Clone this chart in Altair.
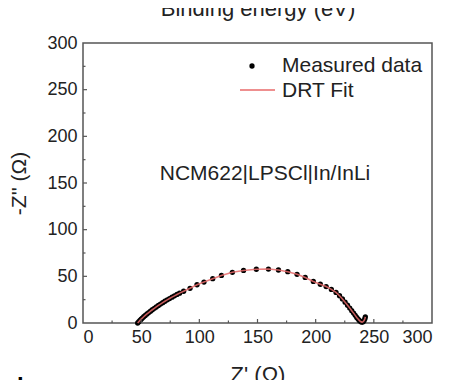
import altair as alt
import pandas as pd

# Measured impedance data (Z', -Z'')
z_real = [47.0, 48.0, 49.0, 50.0, 51.0, 52.2, 53.5, 55.0, 56.5, 58.0, 59.6, 61.3, 63.0, 64.8,
          66.6, 68.5, 70.4, 72.4, 74.4, 76.5, 78.6, 80.8, 83.0, 86.5, 92.0, 98.0, 104.0, 111.5,
          119.0, 128.4, 138.0, 149.0, 159.4, 168.0, 176.0, 184.0, 191.0, 198.0, 204.0, 209.0,
          213.5, 217.5, 220.5, 223.0, 225.3, 227.4, 229.3, 231.0, 232.6, 234.0, 235.3, 236.5,
          237.5, 238.4, 239.2, 240.0, 240.8, 241.6, 242.3, 242.7]
z_imag = [0.0, 1.4, 2.8, 4.1, 5.3, 6.7, 8.1, 9.7, 11.2, 12.7, 14.2, 15.7, 17.2, 18.8,
          20.3, 21.8, 23.3, 24.8, 26.2, 27.7, 29.1, 30.6, 32.0, 34.0, 37.2, 41.0, 43.8, 47.5,
          51.0, 54.3, 56.3, 57.6, 57.8, 56.8, 55.0, 52.2, 48.8, 44.5, 41.5, 39.0,
          36.0, 32.8, 29.2, 25.8, 22.3, 19.0, 16.0, 13.2, 10.6, 8.2, 6.0, 4.2,
          2.8, 1.8, 1.2, 1.0, 1.4, 2.6, 4.6, 6.6]

# DRT fit curve
fit_real = z_real
fit_imag = z_imag

tick_major = [50, 100, 150, 200, 250]
tick_minor = [25, 75, 125, 175, 225, 275]
axis_values = [0, 50, 100, 150, 200, 250, 300]

FONT = "Liberation Sans"
W, H = 349, 280

meas = pd.DataFrame({"x": z_real, "y": z_imag})
fit = pd.DataFrame({"x": fit_real, "y": fit_imag, "o": list(range(len(fit_real)))})

xscale = alt.Scale(domain=[0, 300], nice=False, zero=False)
yscale = alt.Scale(domain=[0, 300], nice=False, zero=False)

xaxis = alt.Axis(values=axis_values, title="Z' (Ω)", grid=False, domain=False, ticks=False,
                 labelFontSize=18, labelPadding=5, labelColor="#222", labelFont=FONT,
                 titleFontSize=22, titleFont=FONT, titleFontWeight="normal", titleColor="#222",
                 titleY=41, titleBaseline="top")
yaxis = alt.Axis(values=axis_values, title="-Z'' (Ω)", grid=False, domain=False, ticks=False,
                 labelFontSize=18, labelPadding=6, labelColor="#222", labelFont=FONT,
                 titleFontSize=21, titleFont=FONT, titleFontWeight="normal", titleColor="#222",
                 titleX=-54)

points = alt.Chart(meas).mark_circle(size=28, color="black", opacity=1).encode(
    x=alt.X("x:Q", scale=xscale, axis=xaxis),
    y=alt.Y("y:Q", scale=yscale, axis=yaxis),
)
line = alt.Chart(fit).mark_line(color="#e86a6a", strokeWidth=1.6, opacity=0.85).encode(
    x=alt.X("x:Q", scale=xscale),
    y=alt.Y("y:Q", scale=yscale),
    order="o:Q",
)

# inward ticks
xmaj = alt.Chart(pd.DataFrame({"v": tick_major})).mark_rule(color="#555", strokeWidth=1.2).encode(
    x=alt.X("v:Q", scale=xscale), y=alt.value(H), y2=alt.value(H - 4))
xmin = alt.Chart(pd.DataFrame({"v": tick_minor})).mark_rule(color="#555", strokeWidth=1.2).encode(
    x=alt.X("v:Q", scale=xscale), y=alt.value(H), y2=alt.value(H - 2.5))
ymaj = alt.Chart(pd.DataFrame({"v": tick_major})).mark_rule(color="#555", strokeWidth=1.2).encode(
    y=alt.Y("v:Q", scale=yscale), x=alt.value(0), x2=alt.value(4))
ymin = alt.Chart(pd.DataFrame({"v": tick_minor})).mark_rule(color="#555", strokeWidth=1.2).encode(
    y=alt.Y("v:Q", scale=yscale), x=alt.value(0), x2=alt.value(2.5))

# annotation
label = alt.Chart(pd.DataFrame({"t": ["NCM622|LPSCl|In/InLi"]})).mark_text(
    font=FONT, fontSize=21, color="#222", align="center", baseline="alphabetic").encode(
    text="t:N", x=alt.value(182), y=alt.value(137))

# legend
leg_pt = alt.Chart(pd.DataFrame({"a": [1]})).mark_circle(size=28, color="black", opacity=1).encode(
    x=alt.value(169), y=alt.value(23))
leg_ln = alt.Chart(pd.DataFrame({"a": [1]})).mark_rule(color="#e86a6a", strokeWidth=1.6).encode(
    x=alt.value(157), x2=alt.value(192), y=alt.value(47))
leg_txt = alt.Chart(pd.DataFrame({"t": ["Measured data", "DRT Fit"], "yy": [29, 54]})).mark_text(
    font=FONT, fontSize=21, color="#222", align="left", baseline="alphabetic").encode(
    text="t:N", x=alt.value(199), y=alt.Y("yy:Q", scale=None))

# partial texts from neighbouring panels
top_txt = alt.Chart(pd.DataFrame({"t": ["Binding energy (eV)"]})).mark_text(
    font=FONT, fontSize=22, color="#222", align="center", baseline="alphabetic").encode(
    text="t:N", x=alt.value(175), y=alt.value(-27))
panel_b = alt.Chart(pd.DataFrame({"t": ["b"]})).mark_text(
    font=FONT, fontSize=24, fontWeight="bold", color="black", align="left", baseline="alphabetic").encode(
    text="t:N", x=alt.value(-66), y=alt.value(352))

chart = alt.layer(
    points, line, xmaj, xmin, ymaj, ymin, label, leg_pt, leg_ln, leg_txt, top_txt, panel_b
).properties(
    width=W, height=H,
    autosize=alt.AutoSizeParams(type="none"),
    padding={"left": 75, "top": 35, "right": 15, "bottom": 62},
).configure_view(stroke="#555", strokeWidth=1.5)

chart.save("out.html", embed_options={"renderer": "svg", "actions": False})
